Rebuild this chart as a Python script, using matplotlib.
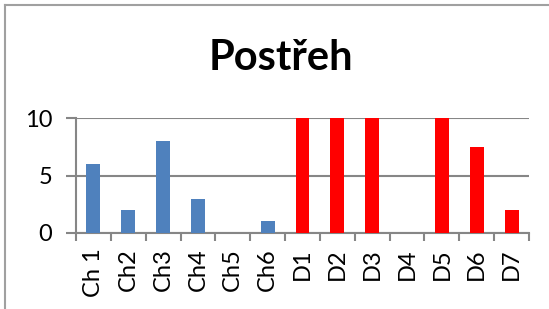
import matplotlib
matplotlib.use("Agg")
import matplotlib.pyplot as plt
import numpy as np
from matplotlib.lines import Line2D

categories = ["Ch 1", "Ch2", "Ch3", "Ch4", "Ch5", "Ch6", "D1", "D2", "D3", "D4", "D5", "D6", "D7"]
values = [6, 2, 8, 3, 0, 1, 10, 10, 10, 0, 10, 7.5, 2]
colors = ["#4F81BD"] * 6 + ["#FF0000"] * 7
yticks = [0, 5, 10]
title = "Postřeh"

plt.rcParams['font.family'] = ['Lato', 'DejaVu Sans']

fig = plt.figure(figsize=(5.49, 3.09), dpi=100)
ax = fig.add_axes([0.1384, 0.246, 0.8252, 0.372])

x = np.arange(len(categories))
ax.bar(x, values, width=0.4, color=colors, zorder=3)
ax.set_xlim(-0.5, len(categories) - 0.5)
ax.set_ylim(0, 10)
ax.set_yticks(yticks)
ax.set_yticklabels([str(v) for v in yticks], fontsize=17)
ax.set_xticks(x)
ax.set_xticklabels(categories, rotation=90, fontsize=17)
ax.tick_params(axis='x', which='major', length=0, pad=11)
ax.set_xticks(np.arange(-0.5, len(categories)), minor=True)
ax.tick_params(axis='x', which='minor', length=6, width=1.5, color='#868686')
ax.tick_params(axis='y', which='major', length=7, width=1.5, color='#868686', pad=10)
for s in ['top', 'right']:
    ax.spines[s].set_visible(False)
for s in ['left', 'bottom']:
    ax.spines[s].set_color('#868686')
    ax.spines[s].set_linewidth(1.5)
ax.yaxis.grid(True, color='#868686', linewidth=1.5, zorder=0)
ax.set_axisbelow(True)

fig.text(0.512, 1 - 58/309, title, ha='center', va='center', fontsize=30, fontweight='bold')

fig.add_artist(Line2D([5/549, 5/549], [0, 1 - 5/309], transform=fig.transFigure, color='#A0A0A0', linewidth=1.5))
fig.add_artist(Line2D([5/549, 1], [1 - 5/309, 1 - 5/309], transform=fig.transFigure, color='#A0A0A0', linewidth=1.5))

fig.savefig("out.png", dpi=100)
